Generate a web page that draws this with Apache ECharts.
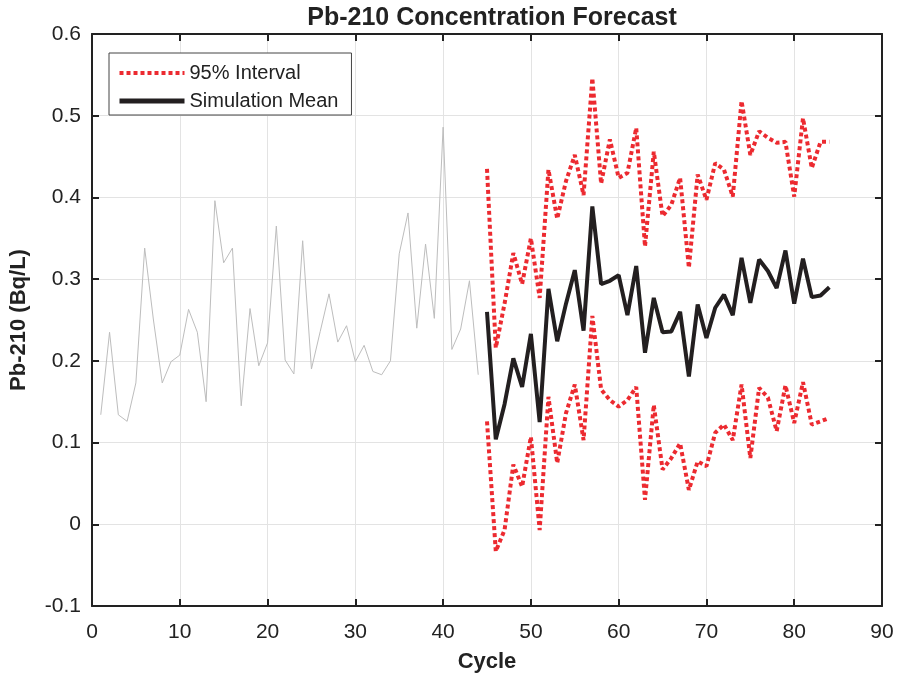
<!DOCTYPE html>
<html>
<head>
<meta charset="utf-8">
<title>Pb-210 Concentration Forecast</title>
<script src="https://cdn.jsdelivr.net/npm/echarts@6/dist/echarts.min.js"></script>
<style>
  html, body { margin: 0; padding: 0; background: #ffffff; }
  #chart { width: 900px; height: 680px; }
</style>
</head>
<body>
<div id="chart"></div>
<script>
// Observed concentrations, cycles 1-44
const historyCycles = [1,2,3,4,5,6,7,8,9,10,11,12,13,14,15,16,17,18,19,20,21,22,23,24,25,26,27,28,29,30,31,32,33,34,35,36,37,38,39,40,41,42,43,44];
const historyValues = [0.134,0.235,0.134,0.126,0.173,0.338,0.250,0.173,0.199,0.207,0.263,0.235,0.150,0.396,0.320,0.338,0.145,0.264,0.194,0.222,0.365,0.201,0.184,0.347,0.190,0.236,0.282,0.223,0.243,0.199,0.219,0.187,0.183,0.200,0.331,0.381,0.240,0.343,0.252,0.486,0.214,0.239,0.298,0.183];

// Simulated forecast, cycles 45-84
const forecastCycles = [45,46,47,48,49,50,51,52,53,54,55,56,57,58,59,60,61,62,63,64,65,66,67,68,69,70,71,72,73,74,75,76,77,78,79,80,81,82,83,84];
const meanValues  = [0.260,0.104,0.147,0.203,0.168,0.233,0.125,0.288,0.224,0.270,0.311,0.237,0.389,0.294,0.298,0.305,0.256,0.316,0.210,0.277,0.235,0.236,0.260,0.181,0.269,0.228,0.265,0.281,0.256,0.326,0.271,0.324,0.310,0.289,0.335,0.270,0.325,0.278,0.280,0.290];
const upperValues = [0.435,0.216,0.270,0.332,0.294,0.350,0.277,0.434,0.374,0.420,0.452,0.403,0.546,0.417,0.471,0.424,0.430,0.485,0.340,0.456,0.377,0.391,0.424,0.314,0.428,0.397,0.442,0.434,0.401,0.518,0.452,0.481,0.473,0.467,0.468,0.401,0.497,0.436,0.468,0.468];
const lowerValues = [0.126,-0.033,-0.007,0.073,0.046,0.107,-0.007,0.156,0.075,0.136,0.171,0.103,0.255,0.165,0.152,0.144,0.152,0.168,0.030,0.146,0.067,0.081,0.099,0.042,0.077,0.071,0.112,0.122,0.103,0.171,0.081,0.167,0.155,0.114,0.170,0.124,0.174,0.122,0.126,0.130];

const zip = (xs, ys) => xs.map((x, i) => [x, ys[i]]);

const FONT = '"Liberation Sans", Arial, Helvetica, sans-serif';
const AXIS_COLOR = '#222222';
const RED = '#ec2a30';
const MEAN_COLOR = '#231f20';
const DOTS = [4, 3];

const chart = echarts.init(document.getElementById('chart'), null, { renderer: 'canvas' });

const boxAxisCommon = {
  type: 'value',
  axisLine: { show: true, onZero: false, lineStyle: { color: AXIS_COLOR, width: 2 } },
  axisTick: { show: true, inside: true, length: 7, lineStyle: { color: AXIS_COLOR, width: 2 } },
  axisLabel: { show: false },
  splitLine: { show: false }
};

chart.setOption({
  animation: false,
  backgroundColor: '#ffffff',
  title: {
    text: 'Pb-210 Concentration Forecast',
    left: 487, top: 1, textAlign: 'center',
    textStyle: { fontFamily: FONT, fontSize: 25, fontWeight: 'bold', color: '#222222' }
  },
  grid: { left: 91, right: 18, top: 34, bottom: 74, containLabel: false },
  legend: {
    data: [
      { name: '95% Interval', itemStyle: { opacity: 0 },
        lineStyle: { color: RED, width: 4, type: DOTS, cap: 'butt' } },
      { name: 'Simulation Mean', itemStyle: { opacity: 0 },
        lineStyle: { color: MEAN_COLOR, width: 5 } }
    ],
    orient: 'vertical',
    left: 109, top: 53,
    padding: [10, 13, 4, 8],
    itemGap: 8,
    itemWidth: 65,
    itemHeight: 20,
    itemTextGap: 8,
    backgroundColor: '#ffffff',
    borderColor: '#444444',
    borderWidth: 1,
    borderRadius: 0,
    textStyle: { fontFamily: FONT, fontSize: 20, color: '#222222' }
  },
  xAxis: [
    {
      type: 'value', min: 0, max: 90, interval: 10, position: 'bottom',
      name: 'Cycle', nameLocation: 'middle', nameGap: 45,
      nameTextStyle: { fontFamily: FONT, fontSize: 22, fontWeight: 'bold', color: '#222222' },
      axisLine: { show: true, onZero: false, lineStyle: { color: AXIS_COLOR, width: 2 } },
      axisTick: { show: true, inside: true, length: 7, lineStyle: { color: AXIS_COLOR, width: 2 } },
      axisLabel: { margin: 16, fontFamily: FONT, fontSize: 21, color: '#222222' },
      splitLine: { show: true, lineStyle: { color: '#e3e3e3', width: 1 } }
    },
    Object.assign({}, boxAxisCommon, { min: 0, max: 90, interval: 10, position: 'top' })
  ],
  yAxis: [
    {
      type: 'value', min: -0.1, max: 0.6, interval: 0.1, position: 'left',
      name: 'Pb-210 (Bq/L)', nameLocation: 'middle', nameGap: 62,
      nameTextStyle: { fontFamily: FONT, fontSize: 22, fontWeight: 'bold', color: '#222222' },
      axisLine: { show: true, onZero: false, lineStyle: { color: AXIS_COLOR, width: 2 } },
      axisTick: { show: true, inside: true, length: 7, lineStyle: { color: AXIS_COLOR, width: 2 } },
      axisLabel: {
        margin: 11, fontFamily: FONT, fontSize: 21, color: '#222222',
        formatter: v => String(Math.round(v * 10) / 10)
      },
      splitLine: { show: true, lineStyle: { color: '#e3e3e3', width: 1 } }
    },
    Object.assign({}, boxAxisCommon, { min: -0.1, max: 0.6, interval: 0.1, position: 'right' })
  ],
  series: [
    {
      name: 'Observed',
      type: 'line',
      data: zip(historyCycles, historyValues),
      showSymbol: false, symbol: 'none',
      lineStyle: { color: '#bdbdbd', width: 1 },
      z: 2
    },
    {
      name: '95% Interval',
      type: 'line',
      data: zip(forecastCycles, upperValues),
      showSymbol: false, symbol: 'none',
      color: RED,
      lineStyle: { color: RED, width: 4, type: DOTS, cap: 'butt' },
      z: 3
    },
    {
      name: '95% Interval',
      type: 'line',
      data: zip(forecastCycles, lowerValues),
      showSymbol: false, symbol: 'none',
      color: RED,
      lineStyle: { color: RED, width: 4, type: DOTS, cap: 'butt' },
      z: 3
    },
    {
      name: 'Simulation Mean',
      type: 'line',
      data: zip(forecastCycles, meanValues),
      showSymbol: false, symbol: 'none',
      color: MEAN_COLOR,
      lineStyle: { color: MEAN_COLOR, width: 4 },
      z: 4
    }
  ]
});
</script>
</body>
</html>
